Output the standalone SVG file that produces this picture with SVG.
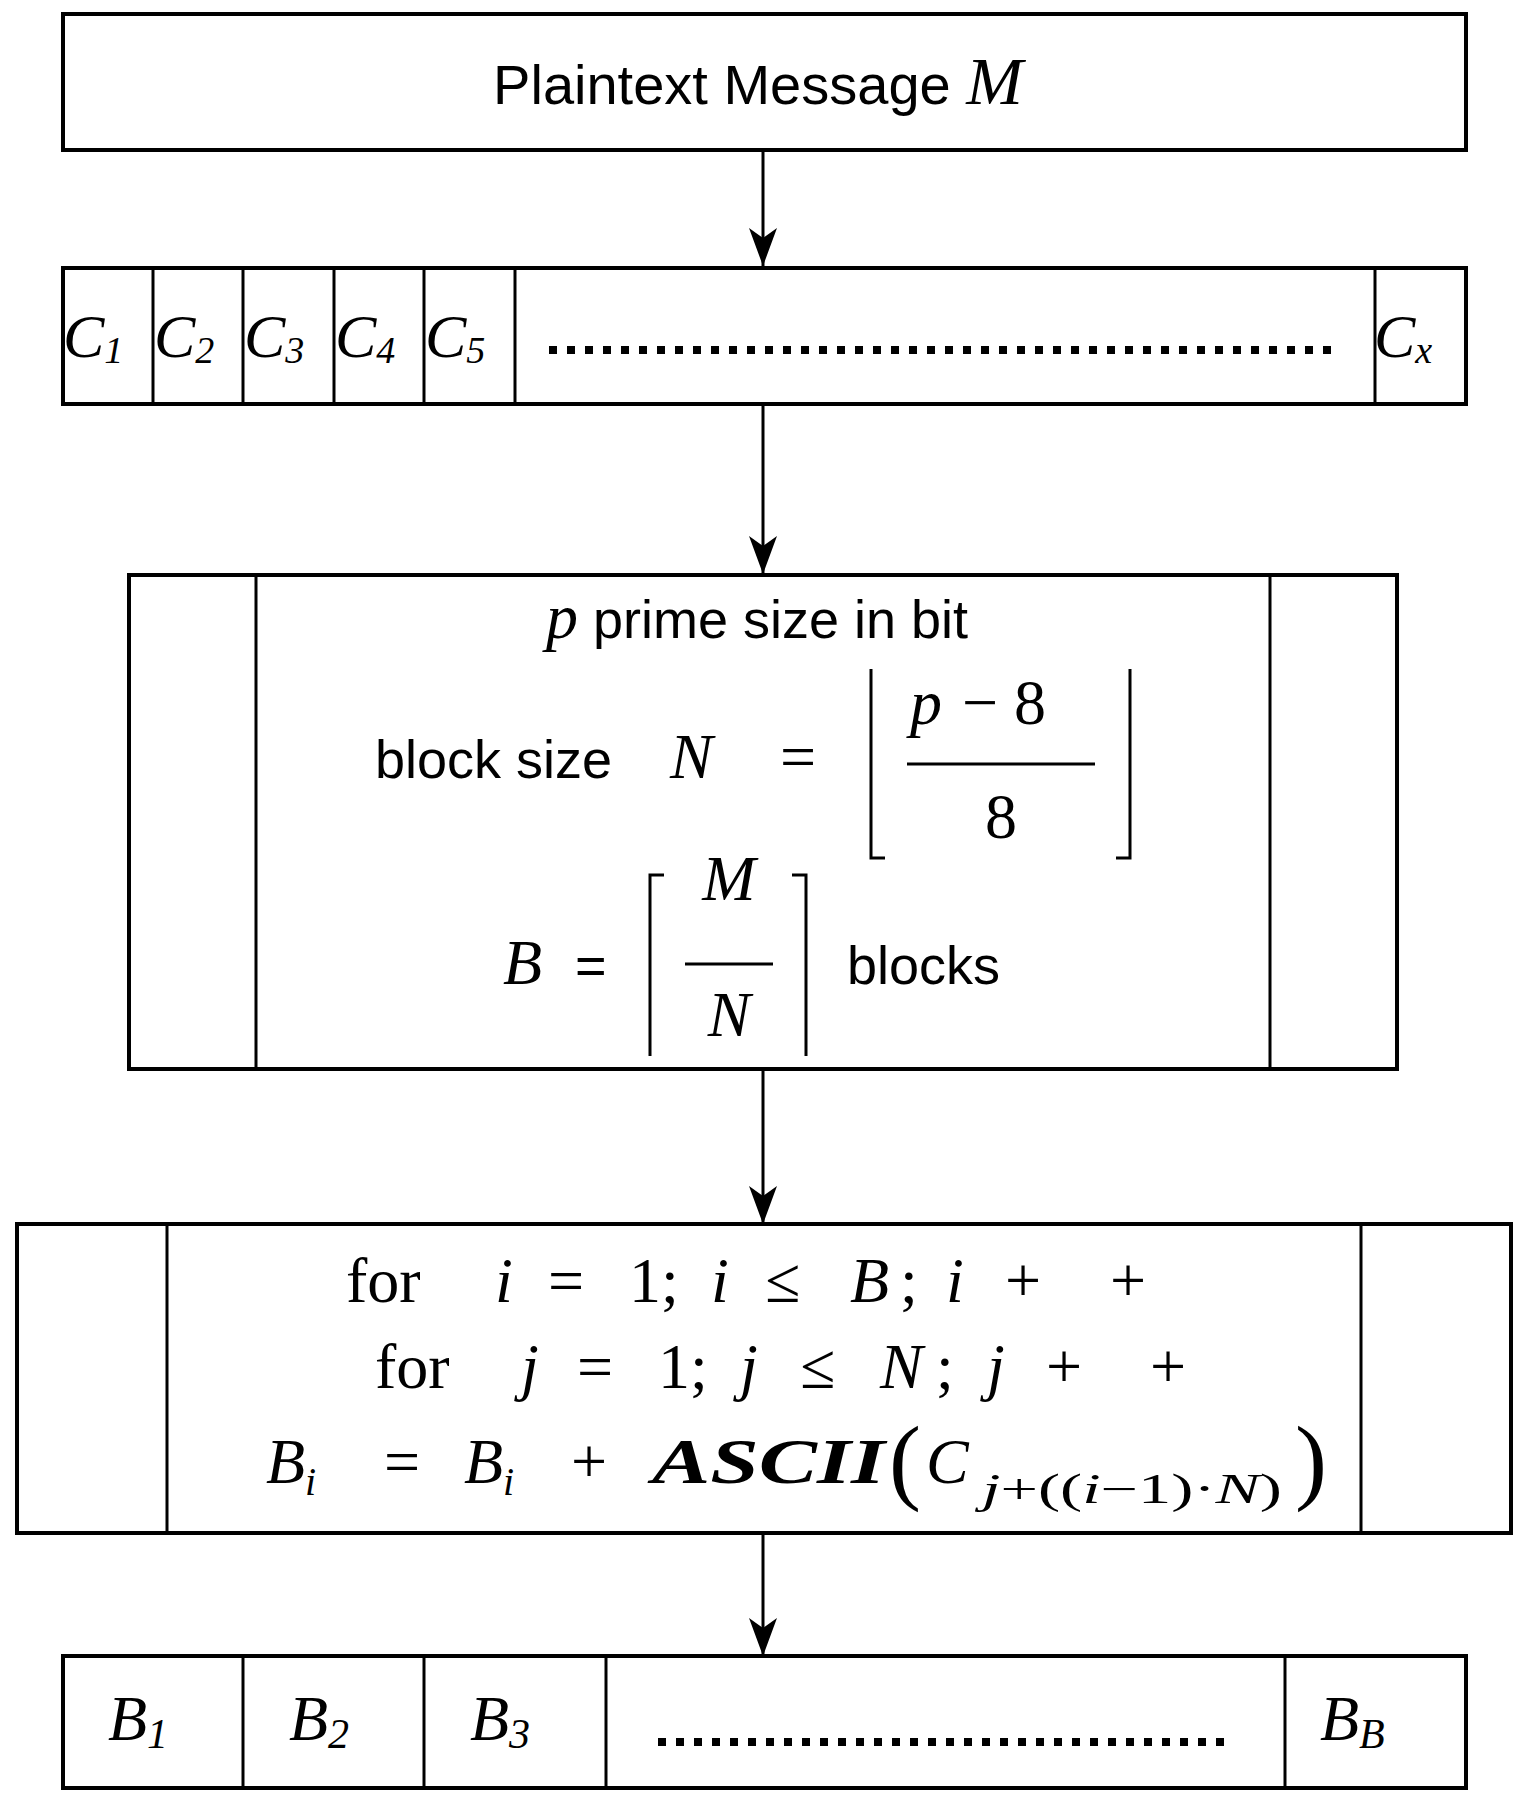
<svg xmlns="http://www.w3.org/2000/svg" width="1517" height="1817" viewBox="0 0 1517 1817">
<style>
.box{fill:#fff;stroke:#000;stroke-width:4}
.ln{stroke:#000;stroke-width:3;fill:none}
.sans{font-family:"Liberation Sans",Arial,sans-serif;fill:#000}
.m{font-family:"Liberation Serif","Times New Roman",serif;font-style:italic;fill:#000}
.r{font-family:"Liberation Serif","Times New Roman",serif;fill:#000}
.dots{stroke:#000;stroke-width:8;stroke-dasharray:8 10}
.big{font-size:64px}
</style>
<defs>
<marker id="a" viewBox="0 0 40 40" refX="38" refY="20" markerWidth="40" markerHeight="40" markerUnits="userSpaceOnUse" orient="auto"><path d="M0,6 L38,20 L0,34 L10,20 Z" fill="#000"/></marker></defs>
<g id="connectors">
<line class="ln" x1="763" y1="150" x2="763" y2="266" marker-end="url(#a)"/>
<line class="ln" x1="763" y1="404" x2="763" y2="574" marker-end="url(#a)"/>
<line class="ln" x1="763" y1="1069" x2="763" y2="1224" marker-end="url(#a)"/>
<line class="ln" x1="763" y1="1533" x2="763" y2="1656" marker-end="url(#a)"/>
</g>
<g id="plaintext">
<rect class="box" x="63" y="14" width="1403" height="136"/>
<text class="sans" x="758" y="104" font-size="56" text-anchor="middle">Plaintext Message <tspan class="m" font-size="68">M</tspan></text>
</g>
<g id="chars">
<rect class="box" x="63" y="268" width="1403" height="136"/>
<g class="ln"><line x1="153" y1="268" x2="153" y2="404"/><line x1="243" y1="268" x2="243" y2="404"/><line x1="334" y1="268" x2="334" y2="404"/><line x1="424" y1="268" x2="424" y2="404"/><line x1="515" y1="268" x2="515" y2="404"/><line x1="1375" y1="268" x2="1375" y2="404"/></g>
<g font-size="62"><text class="m" x="63" y="357">C<tspan class="r" font-size="38" dy="6">1</tspan></text>
<text class="m" x="154" y="357">C<tspan class="r" font-size="38" dy="6">2</tspan></text>
<text class="m" x="244" y="357">C<tspan class="r" font-size="38" dy="6">3</tspan></text>
<text class="m" x="335" y="357">C<tspan class="r" font-size="38" dy="6">4</tspan></text>
<text class="m" x="425" y="357">C<tspan class="r" font-size="38" dy="6">5</tspan></text>
<text class="m" x="1374" y="357">C<tspan font-size="38" dy="6">x</tspan></text></g>
<line class="dots" x1="549" y1="350" x2="1335" y2="350"/>
</g>
<g id="params">
<rect class="box" x="129" y="575" width="1268" height="494"/>
<line class="ln" x1="256" y1="575" x2="256" y2="1069"/><line class="ln" x1="1270" y1="575" x2="1270" y2="1069"/>
<text class="sans" x="757" y="638" font-size="54" text-anchor="middle"><tspan class="m" font-size="64">p</tspan> prime size in bit</text>
<text class="sans" x="375" y="778" font-size="54">block size</text>
<text class="m" x="670" y="778" font-size="64">N</text>
<text class="r" x="780" y="778" font-size="64">=</text>
<path class="ln" d="M871,669 V858 H885 M1130,669 V858 H1116" stroke-width="4"/>
<text class="m" x="910" y="724" font-size="64">p</text><text class="r" x="962" y="724" font-size="64">− 8</text>
<line class="ln" x1="907" y1="764" x2="1095" y2="764"/>
<text class="r" x="1001" y="838" font-size="64" text-anchor="middle">8</text>
<text class="m" x="503" y="984" font-size="64">B</text><text class="sans" x="575" y="984" font-size="54">=</text>
<path class="ln" d="M650,1056 V875 H664 M806,1056 V875 H792" stroke-width="4"/>
<text class="m" x="729" y="900" font-size="64" text-anchor="middle">M</text>
<line class="ln" x1="685" y1="964" x2="773" y2="964"/>
<text class="m" x="729" y="1036" font-size="64" text-anchor="middle">N</text>
<text class="sans" x="847" y="984" font-size="54">blocks</text>
</g>
<g id="loop">
<rect class="box" x="17" y="1224" width="1494" height="309"/>
<line class="ln" x1="167" y1="1224" x2="167" y2="1533"/><line class="ln" x1="1361" y1="1224" x2="1361" y2="1533"/>
<g class="big">
<text class="r" x="346" y="1302">for</text><text class="m" x="495" y="1302">i</text><text class="r" x="548" y="1302">=</text><text class="r" x="629" y="1302">1;</text><text class="m" x="711" y="1302">i</text><text class="r" x="765" y="1302">≤</text><text class="m" x="850" y="1302">B</text><text class="r" x="900" y="1302">;</text><text class="m" x="946" y="1302">i</text><text class="r" x="1005" y="1302">+</text><text class="r" x="1110" y="1302">+</text>
<text class="r" x="375" y="1388">for</text><text class="m" x="521" y="1388">j</text><text class="r" x="577" y="1388">=</text><text class="r" x="658" y="1388">1;</text><text class="m" x="740" y="1388">j</text><text class="r" x="800" y="1388">≤</text><text class="m" x="880" y="1388">N</text><text class="r" x="936" y="1388">;</text><text class="m" x="987" y="1388">j</text><text class="r" x="1046" y="1388">+</text><text class="r" x="1150" y="1388">+</text>
<text class="m" x="266" y="1483">B<tspan font-size="40" dy="12">i</tspan></text><text class="r" x="384" y="1483">=</text>
<text class="m" x="464" y="1483">B<tspan font-size="40" dy="12">i</tspan></text><text class="r" x="571" y="1483">+</text>
<text class="m" x="652" y="1483" font-weight="bold" textLength="233" lengthAdjust="spacingAndGlyphs">ASCII</text>
<text class="r" x="889" y="1492" font-size="96">(</text>
<text class="m" x="926" y="1483">C</text>
<text class="r" x="982" y="1503" font-size="42" textLength="300" lengthAdjust="spacingAndGlyphs"><tspan class="m">j</tspan>+((<tspan class="m">i</tspan>−1)·<tspan class="m">N</tspan>)</text>
<text class="r" x="1295" y="1492" font-size="96">)</text>
</g>
</g>
<g id="blocks">
<rect class="box" x="63" y="1656" width="1403" height="132"/>
<g class="ln"><line x1="243" y1="1656" x2="243" y2="1788"/><line x1="424" y1="1656" x2="424" y2="1788"/><line x1="606" y1="1656" x2="606" y2="1788"/><line x1="1285" y1="1656" x2="1285" y2="1788"/></g>
<g font-size="64"><text class="m" x="108" y="1740">B<tspan class="r" font-size="42" dy="8">1</tspan></text>
<text class="m" x="289" y="1740">B<tspan class="r" font-size="42" dy="8">2</tspan></text>
<text class="m" x="470" y="1740">B<tspan class="r" font-size="42" dy="8">3</tspan></text>
<text class="m" x="1320" y="1740">B<tspan font-size="42" dy="8">B</tspan></text></g>
<line class="dots" x1="658" y1="1742" x2="1230" y2="1742"/>
</g>
</svg>
